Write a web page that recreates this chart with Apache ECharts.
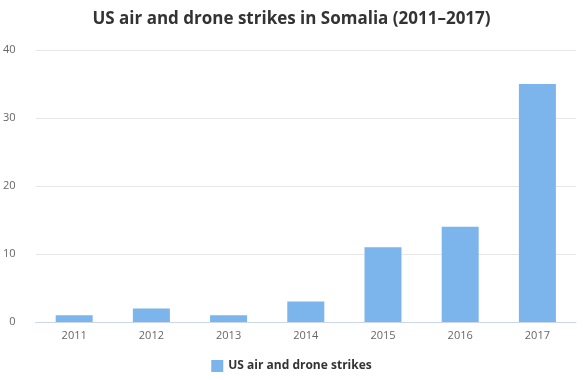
<!DOCTYPE html>
<html><head><meta charset="utf-8">
<script src="https://cdn.jsdelivr.net/npm/echarts@6/dist/echarts.min.js"></script>
<style>html,body{margin:0;padding:0;background:#fff}#c{width:583px;height:380px}</style>
</head><body><div id="c"></div>
<script>
const titleText = 'US air and drone strikes in Somalia (2011–2017)';
const seriesName = 'US air and drone strikes';
const categories = ['2011','2012','2013','2014','2015','2016','2017'];
const strikes = [1, 2, 1, 3, 11, 14, 35];
const yTicks = [0, 10, 20, 30, 40];

const chart = echarts.init(document.getElementById('c'), null, {renderer: 'canvas'});
chart.setOption({
  animation: false,
  backgroundColor: '#fff',
  title: {
    text: titleText,
    left: 'center',
    top: 6,
    textStyle: {fontFamily: 'Open Sans', fontSize: 17, fontWeight: 'bold', color: '#333'}
  },
  legend: {
    data: [seriesName],
    bottom: 3,
    left: 'center',
    icon: 'rect',
    itemWidth: 12,
    itemHeight: 12,
    itemGap: 8,
    textStyle: {fontFamily: 'Open Sans', fontSize: 12, fontWeight: 'bold', color: '#333'}
  },
  grid: {left: 35, right: 7, top: 50, bottom: 58, containLabel: false},
  xAxis: {
    type: 'category',
    data: categories,
    axisLine: {lineStyle: {color: '#ccd6eb'}},
    axisTick: {alignWithLabel: true, length: 6, lineStyle: {color: '#ccd6eb'}},
    axisLabel: {fontFamily: 'Open Sans', fontSize: 11, color: '#666', margin: 8}
  },
  yAxis: {
    type: 'value',
    min: yTicks[0],
    max: yTicks[yTicks.length - 1],
    interval: 10,
    axisLine: {show: false},
    axisTick: {show: false},
    splitLine: {lineStyle: {color: '#e6e6e6'}},
    axisLabel: {fontFamily: 'Open Sans', fontSize: 11, color: '#666', margin: 20, align: 'right'}
  },
  series: [{
    name: seriesName,
    type: 'bar',
    data: strikes,
    barWidth: 37,
    itemStyle: {color: '#7cb5ec'}
  }]
});
</script></body></html>
